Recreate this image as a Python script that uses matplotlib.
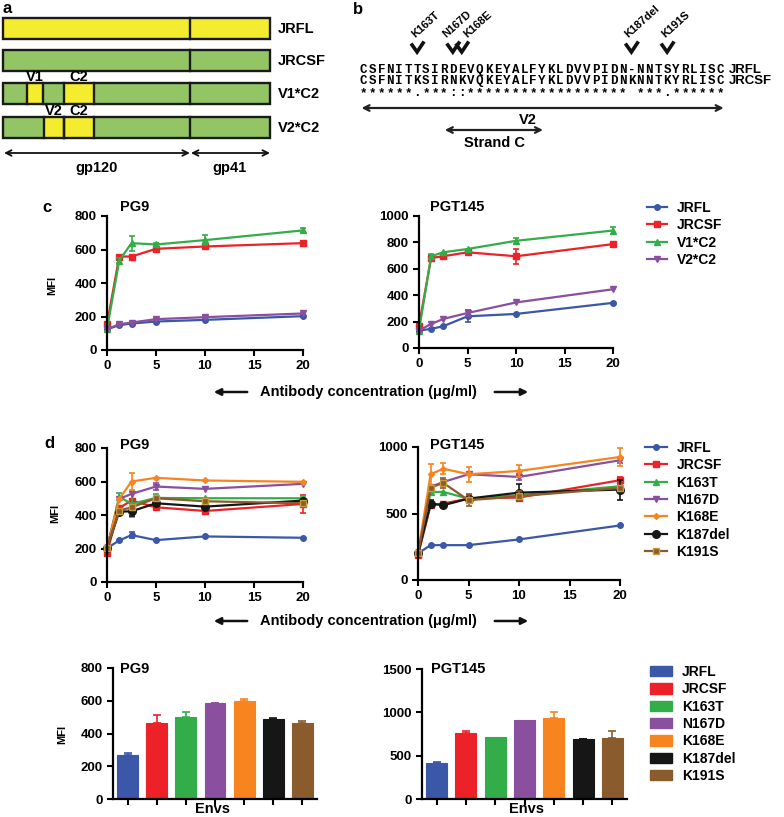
import matplotlib
matplotlib.use('Agg')
import matplotlib.pyplot as plt
from matplotlib.patches import Rectangle, Patch
import numpy as np

plt.rcParams['font.family'] = ['Liberation Sans', 'DejaVu Sans']
plt.rcParams['font.weight'] = 'bold'
plt.rcParams['axes.linewidth'] = 1.6

W, H = 784, 817

# ---- data -------------------------------------------------------------
conc = [0, 1.25, 2.5, 5, 10, 20]

c_names = ['JRFL', 'JRCSF', 'V1*C2', 'V2*C2']
c_pg9 = {'JRFL': [124, 148, 158, 170, 180, 202],
         'JRCSF': [154, 558, 558, 604, 618, 638],
         'V1*C2': [124, 534, 638, 630, 656, 714],
         'V2*C2': [124, 154, 164, 184, 196, 218]}
c_pg9_err = {'JRFL': [0, 5, 5, 0, 0, 5],
             'JRCSF': [0, 0, 5, 5, 5, 0],
             'V1*C2': [0, 15, 44, 6, 28, 16],
             'V2*C2': [0, 5, 5, 5, 5, 5]}
c_pgt145 = {'JRFL': [132, 145, 165, 240, 258, 342],
            'JRCSF': [170, 682, 695, 725, 695, 787],
            'V1*C2': [132, 695, 725, 750, 812, 890],
            'V2*C2': [132, 182, 220, 265, 345, 445]}
c_pgt145_err = {'JRFL': [0, 0, 0, 45, 0, 0],
                'JRCSF': [0, 25, 0, 0, 55, 0],
                'V1*C2': [0, 20, 0, 0, 25, 25],
                'V2*C2': [0, 0, 0, 20, 0, 0]}

d_names = ['JRFL', 'JRCSF', 'K163T', 'N167D', 'K168E', 'K187del', 'K191S']
d_pg9 = {'JRFL': [202, 248, 280, 250, 272, 264],
         'JRCSF': [176, 442, 486, 446, 424, 466],
         'K163T': [202, 510, 466, 502, 500, 500],
         'N167D': [202, 496, 526, 570, 556, 586],
         'K168E': [202, 496, 600, 622, 606, 598],
         'K187del': [202, 420, 422, 470, 450, 486],
         'K191S': [202, 426, 446, 500, 482, 470]}
d_pg9_err = {'JRFL': [0, 0, 16, 0, 0, 0],
             'JRCSF': [16, 0, 0, 10, 10, 54],
             'K163T': [0, 20, 80, 24, 0, 15],
             'N167D': [0, 0, 0, 20, 0, 0],
             'K168E': [0, 0, 50, 0, 0, 0],
             'K187del': [0, 0, 30, 0, 0, 0],
             'K191S': [0, 0, 0, 0, 0, 0]}
d_pgt145 = {'JRFL': [200, 262, 262, 262, 305, 410],
            'JRCSF': [188, 562, 575, 612, 620, 750],
            'K163T': [200, 662, 662, 612, 637, 705],
            'N167D': [200, 700, 737, 795, 775, 900],
            'K168E': [200, 795, 837, 795, 820, 925],
            'K187del': [200, 575, 562, 612, 657, 680],
            'K191S': [200, 695, 730, 600, 630, 692]}
d_pgt145_err = {'JRFL': [0, 0, 0, 0, 0, 0],
                'JRCSF': [25, 0, 0, 30, 0, 25],
                'K163T': [0, 0, 0, 0, 0, 0],
                'N167D': [0, 0, 0, 0, 20, 20],
                'K168E': [0, 78, 40, 55, 45, 70],
                'K187del': [0, 25, 0, 0, 62, 75],
                'K191S': [0, 0, 37, 45, 37, 0]}

bar_pg9 = [267, 466, 503, 584, 596, 488, 462]
bar_pg9_err = [12, 49, 26, 3, 12, 8, 12]
bar_pgt145 = [419, 761, 719, 911, 938, 688, 700]
bar_pgt145_err = [8, 23, 0, 0, 69, 8, 81]

# panel a constructs (fraction of env length), yellow = JRFL-derived parts
a_rows = ['JRFL', 'JRCSF', 'V1*C2', 'V2*C2']
a_base = ['y', 'g', 'g', 'g']
a_yellow = [[], [], [(0.09, 0.15, 'V1'), (0.228, 0.34, 'C2')],
            [(0.154, 0.228, 'V2'), (0.228, 0.34, 'C2')]]
gp120_end = 0.70

# panel b alignment
seq_jrfl = 'CSFNITTSIRDEVQKEYALFYKLDVVPIDN-NNTSYRLISC'
seq_jrcsf = 'CSFNITKSIRNKVQKEYALFYKLDVVPIDNKNNTKYRLISC'
mut_labels = ['K163T', 'N167D', 'K168E', 'K187del', 'K191S']
mut_idx = [6, 10, 11, 30, 34]
mut_dx = [0, -5, 7, -2, -1]
strand_c = (9.1, 20.1)

col = {'JRFL': '#3b57a7', 'JRCSF': '#ec2228', 'V1*C2': '#33ad4a', 'K163T': '#33ad4a',
       'V2*C2': '#8b4f9f', 'N167D': '#8b4f9f', 'K168E': '#f7841f',
       'K187del': '#161616', 'K191S': '#8a5b2c'}
mk = {'JRFL': 'o', 'JRCSF': 's', 'V1*C2': '^', 'K163T': '^', 'V2*C2': 'v',
      'N167D': 'v', 'K168E': 'D', 'K187del': 'o', 'K191S': 's'}
msz = {'JRFL': 4, 'JRCSF': 4.5, 'V1*C2': 4.5, 'K163T': 4.5, 'V2*C2': 4.5,
       'N167D': 4.5, 'K168E': 3, 'K187del': 5.5, 'K191S': 5}

TICK_FS = 9.5
LAB_FS = 10.5
LEG_FS = 10


def box(l, t, r, b):
    return [l / W, 1 - b / H, (r - l) / W, (b - t) / H]


def style(ax):
    ax.patch.set_alpha(0)
    ax.spines['top'].set_visible(False)
    ax.spines['right'].set_visible(False)
    ax.tick_params(direction='out', length=4, width=1.5, labelsize=TICK_FS, pad=3.5)
    for lab in ax.get_xticklabels() + ax.get_yticklabels():
        lab.set_fontweight('bold')


def draw_lines(ax, data, err, names, ymax, yticks):
    x = np.array(conc)
    handles = []
    for n in names:
        y = np.array(data[n], float)
        e = np.array(err[n], float)
        m = e > 0
        if m.any():
            ax.errorbar(x[m], y[m], yerr=e[m], fmt='none', ecolor=col[n], elinewidth=1.2,
                        capsize=2.5, capthick=1.2, clip_on=False)
        mec = '#c89a3a' if n == 'K191S' else col[n]
        h, = ax.plot(x, y, color=col[n], marker=mk[n], ms=msz[n], lw=1.6, mec=mec,
                     clip_on=False, label=n)
        handles.append(h)
    ax.set_xlim(0, 20)
    ax.set_ylim(0, ymax)
    ax.set_xticks([0, 5, 10, 15, 20])
    ax.set_yticks(yticks)
    style(ax)
    return handles


def draw_bars(ax, vals, errs, ymax, yticks):
    pos = np.arange(len(vals))
    cols = [col[n] for n in d_names]
    ax.bar(pos, vals, width=0.72, color=cols, edgecolor=cols, lw=0.8)
    for p, v, e, c in zip(pos, vals, errs, cols):
        if e > 0:
            ax.errorbar([p], [v], yerr=[[0], [e]], fmt='none', ecolor=c, elinewidth=1.2,
                        capsize=3, capthick=1.2)
    ax.set_xlim(-0.5, len(vals) - 0.5)
    ax.set_ylim(0, ymax)
    ax.set_xticks(pos)
    ax.set_xticklabels([])
    ax.set_yticks(yticks)
    style(ax)


def legend(handles, x, y, **kw):
    fig.legend(handles=handles, loc='upper left', bbox_to_anchor=(x / W, 1 - y / H),
               frameon=False, handletextpad=0.72, labelspacing=0.24,
               borderpad=0, borderaxespad=0, prop={'weight': 'bold', 'size': LEG_FS}, **kw)


fig = plt.figure(figsize=(W / 100, H / 100), dpi=100)

# ---- panel c ----------------------------------------------------------
ax1 = fig.add_axes(box(107, 216, 303, 350))
draw_lines(ax1, c_pg9, c_pg9_err, c_names, 800, [0, 200, 400, 600, 800])
ax2 = fig.add_axes(box(419, 216, 613, 348))
hc = draw_lines(ax2, c_pgt145, c_pgt145_err, c_names, 1000, [0, 200, 400, 600, 800, 1000])
legend(hc, 647, 201, handlelength=1.45)

# ---- panel d ----------------------------------------------------------
ax3 = fig.add_axes(box(107, 448, 303, 582))
draw_lines(ax3, d_pg9, d_pg9_err, d_names, 800, [0, 200, 400, 600, 800])
ax4 = fig.add_axes(box(418, 447, 620, 580))
hd = draw_lines(ax4, d_pgt145, d_pgt145_err, d_names, 1000, [0, 500, 1000])
legend(hd, 645, 441, handlelength=1.55)

# ---- bar panels -------------------------------------------------------
ax5 = fig.add_axes(box(113, 668, 317, 799))
draw_bars(ax5, bar_pg9, bar_pg9_err, 800, [0, 200, 400, 600, 800])
ax6 = fig.add_axes(box(422, 669, 627, 799))
draw_bars(ax6, bar_pgt145, bar_pgt145_err, 1500, [0, 500, 1000, 1500])
bh = [Patch(facecolor=col[n], edgecolor=col[n], label=n) for n in d_names]
legend(bh, 650, 665, handlelength=1.6, handleheight=0.8)

# ---- overlay in pixel coordinates --------------------------------------
ov = fig.add_axes([0, 0, 1, 1])
ov.set_xlim(0, W)
ov.set_ylim(H, 0)
ov.axis('off')
ov.patch.set_alpha(0)

YEL, GRN = '#f4ec2f', '#93c564'
ax0, ax1r = 3, 270
row_top = [18, 50, 83, 117]
row_h = 21


def fx(f):
    return ax0 + f * (ax1r - ax0)


for i, name in enumerate(a_rows):
    t = row_top[i]
    base = YEL if a_base[i] == 'y' else GRN
    ov.add_patch(Rectangle((ax0, t), ax1r - ax0, row_h, facecolor=base, edgecolor='none'))
    edges = [gp120_end]
    for s, e, lab in a_yellow[i]:
        ov.add_patch(Rectangle((fx(s), t), fx(e) - fx(s), row_h, facecolor=YEL, edgecolor='none'))
        edges += [s, e]
        ov.text((fx(s) + fx(e)) / 2, t - 6, lab, ha='center', va='center', fontsize=LAB_FS)
    for e in edges:
        ov.plot([fx(e), fx(e)], [t, t + row_h], color='#1a1a1a', lw=1.7)
    ov.add_patch(Rectangle((ax0, t), ax1r - ax0, row_h, facecolor='none', edgecolor='#1a1a1a', lw=1.7))
    ov.text(278, t + row_h / 2, name, ha='left', va='center', fontsize=LAB_FS)

ov.annotate('', xy=(ax0 + 1, 153), xytext=(fx(gp120_end), 153),
            arrowprops=dict(arrowstyle='<->', lw=1.3, color='#111', shrinkA=0, shrinkB=0))
ov.annotate('', xy=(fx(gp120_end) + 1, 153), xytext=(ax1r, 153),
            arrowprops=dict(arrowstyle='<->', lw=1.3, color='#111', shrinkA=0, shrinkB=0))
ov.text(97, 168, 'gp120', ha='center', va='center', fontsize=LAB_FS)
ov.text(230, 168, 'gp41', ha='center', va='center', fontsize=LAB_FS)

# panel b
sx0, sdx = 363.5, 8.93


def sx(i):
    return sx0 + i * sdx


stars = ''.join('*' if a == b else ('.' if a == 'T' or a == 'S' else (' ' if a == '-' else ':'))
                for a, b in zip(seq_jrfl, seq_jrcsf))
for i in range(len(seq_jrfl)):
    for yy, row in [(70, seq_jrfl), (81, seq_jrcsf), (93, stars)]:
        ov.text(sx(i), yy, row[i], ha='center', va='center', fontsize=9,
                family='Liberation Mono', fontweight='bold')
ov.text(729, 70, 'JRFL', ha='left', va='center', fontsize=9.5)
ov.text(729, 81, 'JRCSF', ha='left', va='center', fontsize=9.5)

for lab, i, dx in zip(mut_labels, mut_idx, mut_dx):
    x = sx(i)
    ov.plot([x - 5, x, x + 6], [45, 52, 43], color='#111', lw=2.6, solid_joinstyle='miter')
    ov.text(x + dx, 39, lab, rotation=42, rotation_mode='anchor', ha='left', va='bottom',
            fontsize=8, fontweight='bold')

ov.annotate('', xy=(sx(0) - 2, 108), xytext=(sx(len(seq_jrfl) - 1) + 3, 108),
            arrowprops=dict(arrowstyle='<->', lw=1.6, color='#222', shrinkA=0, shrinkB=0))
ov.text(528, 120, 'V2', ha='center', va='center', fontsize=LAB_FS)
ov.annotate('', xy=(sx(strand_c[0]), 130), xytext=(sx(strand_c[1]), 130),
            arrowprops=dict(arrowstyle='<->', lw=1.6, color='#222', shrinkA=0, shrinkB=0))
ov.text(495, 143, 'Strand C', ha='center', va='center', fontsize=LAB_FS)

# panel letters, titles, labels
for x, y, s in [(3, 8, 'a'), (353, 9, 'b'), (42, 207, 'c'), (44, 443, 'd')]:
    ov.text(x, y, s, ha='left', va='center', fontsize=12)
for x, y, s in [(120, 207, 'PG9'), (430, 207, 'PGT145'), (120, 445, 'PG9'),
                (430, 445, 'PGT145'), (120, 669, 'PG9'), (431, 669, 'PGT145')]:
    ov.text(x, y, s, ha='left', va='center', fontsize=LAB_FS)
for x, y in [(52, 285), (55, 513), (62, 734)]:
    ov.text(x, y, 'MFI', rotation=90, ha='center', va='center', fontsize=8)
for x in [213, 527]:
    ov.text(x, 809, 'Envs', ha='center', va='center', fontsize=LAB_FS)

for y in [392, 621]:
    ov.text(260, y, 'Antibody concentration (\u03bcg/ml)', ha='left', va='center', fontsize=LAB_FS)
    ov.annotate('', xy=(211, y), xytext=(250, y),
                arrowprops=dict(arrowstyle='-|>', lw=1.8, color='#111', mutation_scale=10))
    ov.annotate('', xy=(531, y), xytext=(492, y),
                arrowprops=dict(arrowstyle='-|>', lw=1.8, color='#111', mutation_scale=10))

fig.savefig('out.png', dpi=100)
